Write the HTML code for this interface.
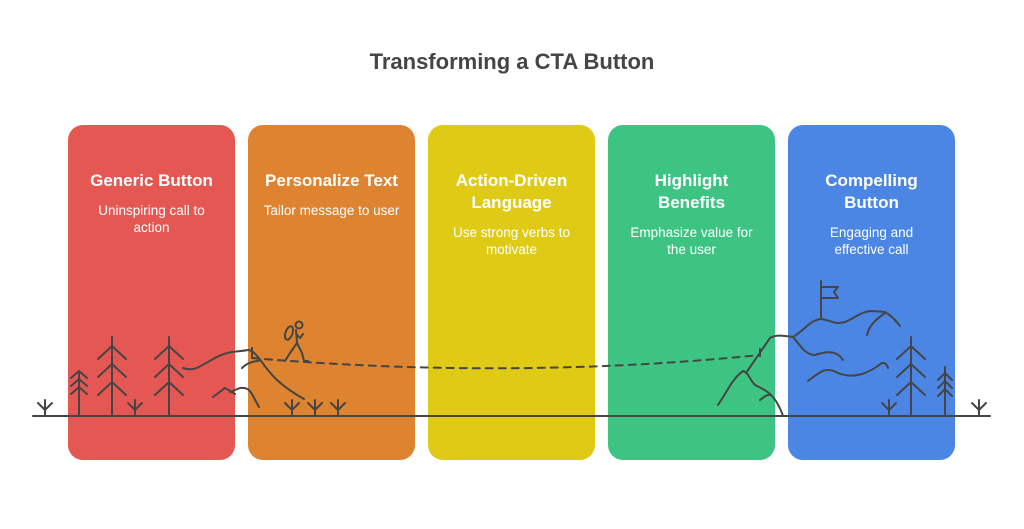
<!DOCTYPE html>
<html><head><meta charset="utf-8"><style>
body{margin:0;width:1024px;height:529px;background:#fff;overflow:hidden;font-family:"Liberation Sans",sans-serif;position:relative}
.t{position:absolute;top:49px;left:0;width:1024px;text-align:center;font-weight:bold;font-size:22px;color:#454545}
.c{position:absolute;top:125px;width:167px;height:335px;border-radius:15px;color:#fff;text-align:center}
.c h{display:block;font-weight:bold;font-size:17px;line-height:22px;margin-top:45px;white-space:nowrap}
.c p{font-size:13.5px;line-height:17px;margin:10px 0 0;white-space:nowrap}
svg{position:absolute;left:0;top:0}
</style></head><body>
<div class="t">Transforming a CTA Button</div>
<div class="c" style="left:68px;background:#E55753"><h>Generic Button</h><p>Uninspiring call to<br>action</p></div>
<div class="c" style="left:248px;background:#DE832F"><h>Personalize Text</h><p>Tailor message to user</p></div>
<div class="c" style="left:428px;background:#DFCB16"><h>Action-Driven<br>Language</h><p>Use strong verbs to<br>motivate</p></div>
<div class="c" style="left:608px;background:#3DC483"><h>Highlight<br>Benefits</h><p>Emphasize value for<br>the user</p></div>
<div class="c" style="left:788px;background:#4B86E4"><h>Compelling<br>Button</h><p>Engaging and<br>effective call</p></div>
<svg width="1024" height="529" fill="none" stroke="#454545" stroke-width="2" stroke-linecap="round" stroke-linejoin="round">
<line x1="33" y1="416" x2="990" y2="416"/>
<path d="M79 371V416M71 378L79 371L87 378M71 386L79 379L87 386M71 394L79 387L87 394"/>
<path d="M112 337V416M98 359L112 346L126 359M98 377L112 364L126 377M98 395L112 382L126 395"/>
<path d="M169 337V416M155 359L169 346L183 359M155 377L169 364L183 377M155 395L169 382L183 395"/>
<path d="M911 337V416M897 359L911 346L925 359M897 377L911 364L925 377M897 395L911 382L925 395"/>
<path d="M945 367V416M938 380L945 373L952 380M938 388L945 381L952 388M938 396L945 389L952 396"/>
<path d="M45 400V416M38 403L45 410L52 403"/>
<path d="M135 400V416M128 403L135 410L142 403"/>
<path d="M292 400V416M285 403L292 410L299 403"/>
<path d="M315 400V416M308 403L315 410L322 403"/>
<path d="M338 400V416M331 403L338 410L345 403"/>
<path d="M889 400V416M882 403L889 410L896 403"/>
<path d="M979 400V416M972 403L979 410L986 403"/>
<path d="M183 368C195 372 200 366 215 358C230 350 238 352 248 350C256 350 262 365 275 378C285 388 295 394 304 399"/>
<path d="M242 368C250 360 258 362 260 360"/>
<path d="M213 397L225 388L235 394M230 392L240 388C247 387 250 390 253 396L259 407"/>
<path d="M252 348V358"/>
<path d="M252 358Q512 380 760 355" stroke-dasharray="7 6"/>
<circle cx="299" cy="325" r="3.5"/>
<ellipse cx="289" cy="333" rx="3.5" ry="7" transform="rotate(20 289 333)"/>
<path d="M296 330L297 343M297 335L300 338L303 334M297 343L290 353L285 361M297 343L302 353L304 361L308 361"/>
<path d="M718 405C728 390 733 378 743 371C748 372 750 380 755 385C765 390 775 393 783 416"/>
<path d="M746 373L770 338C775 335 780 335 793 337C805 330 810 320 821 319C830 320 835 325 845 322C855 318 862 311 872 311L885 312C892 316 896 321 900 326"/>
<path d="M867 335C869 326 875 320 885 313"/>
<path d="M793 337C800 345 805 355 815 355C830 350 838 352 843 360"/>
<path d="M808 381C820 372 825 366 838 373C855 380 870 372 882 363C886 362 887 366 888 368"/>
<path d="M760 400C765 396 768 394 770 395"/>
<path d="M760 349V356"/>
<path d="M821 319V281M821 287H838L834 292L838 298H821"/>
</svg>
</body></html>
